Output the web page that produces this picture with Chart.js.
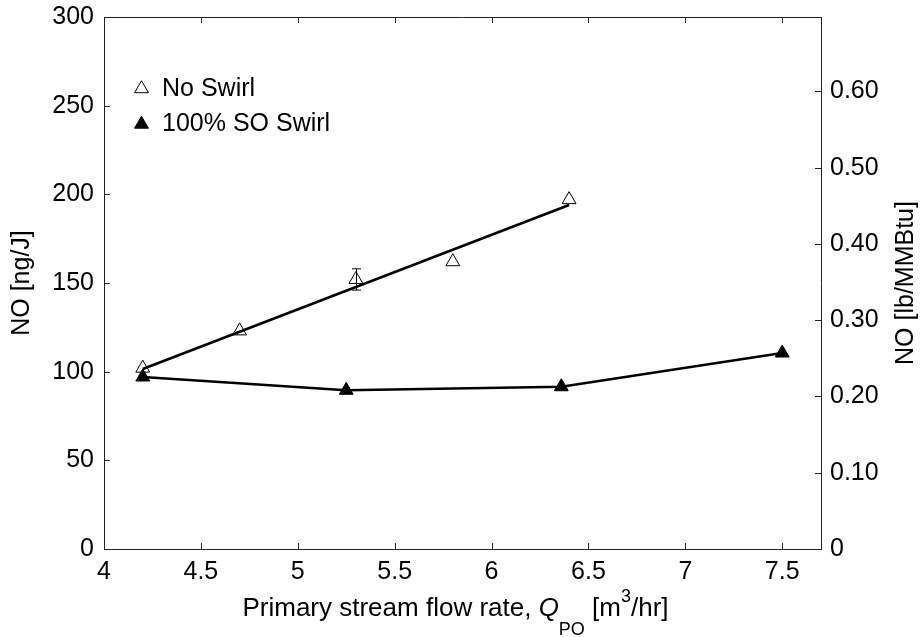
<!DOCTYPE html>
<html><head><meta charset="utf-8">
<script src="https://cdn.jsdelivr.net/npm/chart.js@4/dist/chart.umd.min.js"></script>
<style>html,body{margin:0;padding:0;background:#fff}#wrap{width:920px;height:637px}</style>
</head><body><div id="wrap"><canvas id="c" width="920" height="637"></canvas></div>
<script>
// ---- data ----
const noSwirlQ = [4.2, 4.7, 5.3, 5.8, 6.4];
const noSwirlNO = [102, 123, 152, 162, 197];
const noSwirlErrMinus = [0, 0, 6, 0, 0];
const noSwirlErrPlus = [0, 0, 6, 0, 0];
const noSwirlFitQ = [4.2, 6.4];
const noSwirlFitNO = [101.5, 194];
const swirlQ = [4.2, 5.25, 6.36, 7.5];
const swirlNO = [97, 89.5, 91.5, 110.5];
const seriesNames = ['No Swirl', '100% SO Swirl'];
const xRange = [4, 7.7];
const xStep = 0.5;
const leftRange = [0, 300];
const leftStep = 50;
const NG_PER_LB = 430; // 1 lb/MMBtu = 430 ng/J
const rightStep = 0.1;

const FONT = '"Liberation Sans", Arial, Helvetica, sans-serif';
const FS = 25;
const AX = '#222';

const pts = (xs, ys) => xs.map((v, i) => ({x: v, y: ys[i]}));
const noPad = s => { s.paddingTop = 0; s.paddingBottom = 0; s.paddingLeft = 0; s.paddingRight = 0; };

const extras = {
  id: 'extras',
  afterDatasetsDraw(chart) {
    const {ctx, scales: {x, y}} = chart;
    ctx.save();
    ctx.strokeStyle = '#000'; ctx.lineWidth = 1;
    ctx.beginPath();
    noSwirlQ.forEach((q, i) => {
      if (!noSwirlErrMinus[i] && !noSwirlErrPlus[i]) return;
      const px = Math.round(x.getPixelForValue(q)) + 0.5;
      const lo = y.getPixelForValue(noSwirlNO[i] - noSwirlErrMinus[i]);
      const hi = y.getPixelForValue(noSwirlNO[i] + noSwirlErrPlus[i]);
      ctx.moveTo(px, lo); ctx.lineTo(px, hi);
      ctx.moveTo(px - 4.5, lo); ctx.lineTo(px + 4.5, lo);
      ctx.moveTo(px - 4.5, hi); ctx.lineTo(px + 4.5, hi);
    });
    ctx.stroke();
    ctx.restore();
  },
  afterDraw(chart) {
    const {ctx, chartArea: a, scales: {x, y, y2}} = chart;
    ctx.save();
    ctx.strokeStyle = AX; ctx.lineWidth = 1;
    ctx.beginPath();
    ctx.moveTo(a.left, a.top + 0.5); ctx.lineTo(a.right, a.top + 0.5);
    x.ticks.forEach(t => {
      const px = Math.round(x.getPixelForValue(t.value)) + 0.5;
      ctx.moveTo(px, a.bottom); ctx.lineTo(px, a.bottom - 6);
      ctx.moveTo(px, a.top); ctx.lineTo(px, a.top + 6);
    });
    y.ticks.forEach(t => {
      const py = Math.round(y.getPixelForValue(t.value)) + 0.5;
      ctx.moveTo(a.left, py); ctx.lineTo(a.left + 6, py);
    });
    y2.ticks.forEach(t => {
      const py = Math.round(y2.getPixelForValue(t.value)) + 0.5;
      ctx.moveTo(a.right, py); ctx.lineTo(a.right - 6, py);
    });
    ctx.stroke();

    // legend
    const lx = a.left + 37.5;
    const rows = [{y: a.top + 71.7, fill: 'rgba(0,0,0,0)', text: seriesNames[0]},
                  {y: a.top + 107.2, fill: '#000', text: seriesNames[1]}];
    rows.forEach(r => {
      ctx.fillStyle = r.fill; ctx.strokeStyle = '#000'; ctx.lineWidth = 1;
      Chart.helpers.drawPoint(ctx, {pointStyle: 'triangle', radius: 8, borderWidth: 1, rotation: 0}, lx, r.y);
      ctx.fillStyle = '#000';
      ctx.font = FS + 'px ' + FONT;
      ctx.textAlign = 'left'; ctx.textBaseline = 'middle';
      ctx.fillText(r.text, a.left + 58, r.y);
    });

    // right axis title (reads bottom to top)
    ctx.save();
    ctx.translate(906, (a.top + a.bottom) / 2);
    ctx.rotate(-Math.PI / 2);
    ctx.font = FS + 'px ' + FONT;
    ctx.textAlign = 'center'; ctx.textBaseline = 'middle';
    ctx.fillStyle = '#000';
    ctx.fillText('NO [lb/MMBtu]', 0, 0);
    ctx.restore();

    // x axis title with italic Q, subscript PO, superscript 3
    const TF = 26, SS = 18;
    const segs = [
      {t: 'Primary stream flow rate, ', f: TF + 'px ' + FONT, dy: 0},
      {t: 'Q', f: 'italic ' + TF + 'px ' + FONT, dy: 0},
      {t: 'PO', f: SS + 'px ' + FONT, dy: 19},
      {t: ' [m', f: TF + 'px ' + FONT, dy: 0},
      {t: '3', f: SS + 'px ' + FONT, dy: -14},
      {t: '/hr]', f: TF + 'px ' + FONT, dy: 0}
    ];
    let total = 0;
    segs.forEach(s => { ctx.font = s.f; s.w = ctx.measureText(s.t).width; total += s.w; });
    let cx = (a.left + a.right) / 2 - 7 - total / 2;
    const base = 616;
    ctx.textAlign = 'left'; ctx.textBaseline = 'alphabetic'; ctx.fillStyle = '#000';
    segs.forEach(s => { ctx.font = s.f; ctx.fillText(s.t, cx, base + s.dy); cx += s.w; });
    ctx.restore();
  }
};

new Chart(document.getElementById('c'), {
  type: 'scatter',
  data: {
    datasets: [
      {label: seriesNames[0] + ' fit', data: pts(noSwirlFitQ, noSwirlFitNO), showLine: true,
       borderColor: '#000', borderWidth: 2.5, pointRadius: 0, yAxisID: 'y'},
      {label: seriesNames[0], data: pts(noSwirlQ, noSwirlNO), showLine: false,
       pointStyle: 'triangle', pointRadius: 8, pointBorderWidth: 1,
       pointBorderColor: '#000', pointBackgroundColor: 'rgba(0,0,0,0)', yAxisID: 'y'},
      {label: seriesNames[1], data: pts(swirlQ, swirlNO), showLine: true,
       borderColor: '#000', borderWidth: 2.5,
       pointStyle: 'triangle', pointRadius: 8, pointBorderWidth: 1,
       pointBorderColor: '#000', pointBackgroundColor: '#000', yAxisID: 'y'}
    ]
  },
  options: {
    responsive: false,
    animation: false,
    devicePixelRatio: 1,
    layout: {padding: {top: 17, left: 0, right: 0, bottom: 0}},
    plugins: {legend: {display: false}, tooltip: {enabled: false}},
    scales: {
      x: {
        type: 'linear', position: 'bottom', min: xRange[0], max: xRange[1],
        grid: {display: false, drawTicks: false},
        border: {display: true, color: AX, width: 1},
        ticks: {stepSize: xStep, includeBounds: false, autoSkip: false, maxRotation: 0,
                padding: 8, color: '#000', font: {family: FONT, size: FS},
                callback: v => String(Math.round(v * 10) / 10)},
        afterFit: s => { s.height = 88; noPad(s); }
      },
      y: {
        type: 'linear', position: 'left', min: leftRange[0], max: leftRange[1],
        grid: {display: false, drawTicks: false},
        border: {display: true, color: AX, width: 1},
        ticks: {stepSize: leftStep, padding: 10, color: '#000', font: {family: FONT, size: FS}},
        title: {display: true, text: 'NO [ng/J]', color: '#000', font: {family: FONT, size: FS},
                padding: {top: 7, bottom: 0}},
        afterFit: s => { s.width = 104; noPad(s); }
      },
      y2: {
        type: 'linear', position: 'right', min: leftRange[0] / NG_PER_LB, max: leftRange[1] / NG_PER_LB,
        grid: {display: false, drawTicks: false},
        border: {display: true, color: AX, width: 1},
        ticks: {stepSize: rightStep, includeBounds: false, padding: 9, color: '#000',
                font: {family: FONT, size: FS},
                callback: v => (Math.abs(v) < 1e-9 ? '0' : v.toFixed(2))},
        afterFit: s => { s.width = 99; noPad(s); }
      }
    }
  },
  plugins: [extras]
});
</script></body></html>
